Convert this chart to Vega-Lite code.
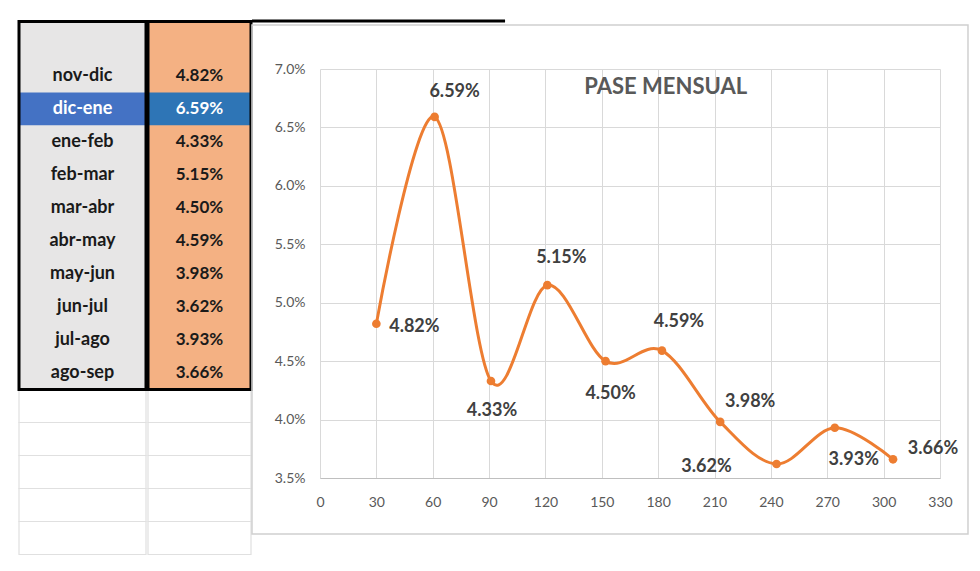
{
  "$schema": "https://vega.github.io/schema/vega-lite/v6.json",
  "background": "white",
  "padding": {"left": 17, "top": 19, "right": 0, "bottom": 0},
  "config": {
    "font": "Lato",
    "view": {"stroke": null},
    "text": {"font": "Lato", "fontWeight": "bold", "fontSize": 18, "color": "#404040"}
  },
  "datasets": {
    "pase": [
      {"periodo": "nov-dic", "dias": 30, "valor": 0.0482},
      {"periodo": "dic-ene", "dias": 61, "valor": 0.0659},
      {"periodo": "ene-feb", "dias": 91, "valor": 0.0433},
      {"periodo": "feb-mar", "dias": 121, "valor": 0.0515},
      {"periodo": "mar-abr", "dias": 152, "valor": 0.0450},
      {"periodo": "abr-may", "dias": 182, "valor": 0.0459},
      {"periodo": "may-jun", "dias": 213, "valor": 0.0398},
      {"periodo": "jun-jul", "dias": 243, "valor": 0.0362},
      {"periodo": "jul-ago", "dias": 274, "valor": 0.0393},
      {"periodo": "ago-sep", "dias": 305, "valor": 0.0366}
    ],
    "celdas": [
      {"periodo": "r1"}, {"periodo": "r2"}, {"periodo": "r3"}, {"periodo": "r4"}, {"periodo": "r5"}
    ]
  },
  "spacing": -3,
  "hconcat": [
    {
      "spacing": -3,
      "hconcat": [
        {
          "width": 127,
          "height": 321,
          "data": {"name": "pase"},
          "resolve": {"scale": {"y": "independent"}},
          "layer": [
            {
              "transform": [{"filter": "datum.periodo == 'nov-dic'"}],
              "mark": {"type": "rect", "fill": "#E7E6E6"},
              "encoding": {
                "x": {"value": 0}, "x2": {"value": "width"},
                "y": {"datum": "tabla", "type": "nominal", "axis": null,
                      "scale": {"range": [-47.5, 320.5], "paddingInner": 0, "paddingOuter": 0}}
              }
            },
            {
              "encoding": {
                "y": {"field": "periodo", "type": "nominal", "axis": null,
                      "scale": {"domain": ["nov-dic", "dic-ene", "ene-feb", "feb-mar", "mar-abr", "abr-may", "may-jun", "jun-jul", "jul-ago", "ago-sep", "r1", "r2", "r3", "r4", "r5"],
                                "range": [-9.5, 485.5], "paddingInner": 0, "paddingOuter": 0}}
              },
              "layer": [
                {
                  "data": {"name": "celdas"},
                  "mark": {"type": "rect", "fill": "transparent", "stroke": "#e0e0e0", "strokeWidth": 1.2},
                  "encoding": {"x": {"value": 0}, "x2": {"value": "width"}}
                },
                {
                  "mark": {"type": "rect"},
                  "encoding": {
                    "x": {"value": 0}, "x2": {"value": "width"},
                    "fill": {"condition": {"test": "datum.periodo == 'dic-ene'", "value": "#4472C4"}, "value": "#E7E6E6"}
                  }
                },
                {
                  "mark": {"type": "text", "fontSize": 18, "fontWeight": "bold"},
                  "encoding": {
                    "text": {"field": "periodo"},
                    "color": {"condition": {"test": "datum.periodo == 'dic-ene'", "value": "white"}, "value": "#1a1a1a"}
                  }
                }
              ]
            },
            {
              "transform": [{"filter": "datum.periodo == 'nov-dic'"}],
              "mark": {"type": "rect", "fill": "transparent", "stroke": "black", "strokeWidth": 3},
              "encoding": {
                "x": {"value": 0}, "x2": {"value": "width"},
                "y": {"datum": "tabla", "type": "nominal", "axis": null,
                      "scale": {"range": [-47.5, 320.5], "paddingInner": 0, "paddingOuter": 0}}
              }
            }
          ]
        },
        {
          "width": 103,
          "height": 321,
          "data": {"name": "pase"},
          "resolve": {"scale": {"y": "independent"}},
          "layer": [
            {
              "transform": [{"filter": "datum.periodo == 'nov-dic'"}],
              "mark": {"type": "rect", "fill": "#F4B183"},
              "encoding": {
                "x": {"value": 0}, "x2": {"value": "width"},
                "y": {"datum": "tabla", "type": "nominal", "axis": null,
                      "scale": {"range": [-47.5, 320.5], "paddingInner": 0, "paddingOuter": 0}}
              }
            },
            {
              "encoding": {
                "y": {"field": "periodo", "type": "nominal", "axis": null,
                      "scale": {"domain": ["nov-dic", "dic-ene", "ene-feb", "feb-mar", "mar-abr", "abr-may", "may-jun", "jun-jul", "jul-ago", "ago-sep", "r1", "r2", "r3", "r4", "r5"],
                                "range": [-9.5, 485.5], "paddingInner": 0, "paddingOuter": 0}}
              },
              "layer": [
                {
                  "data": {"name": "celdas"},
                  "mark": {"type": "rect", "fill": "transparent", "stroke": "#e0e0e0", "strokeWidth": 1.2},
                  "encoding": {"x": {"value": 0}, "x2": {"value": "width"}}
                },
                {
                  "mark": {"type": "rect"},
                  "encoding": {
                    "x": {"value": 0}, "x2": {"value": "width"},
                    "fill": {"condition": {"test": "datum.periodo == 'dic-ene'", "value": "#2E75B6"}, "value": "#F4B183"}
                  }
                },
                {
                  "mark": {"type": "text", "fontSize": 17, "fontWeight": "bold"},
                  "encoding": {
                    "text": {"field": "valor", "format": ".2%"},
                    "color": {"condition": {"test": "datum.periodo == 'dic-ene'", "value": "white"}, "value": "#1a1a1a"}
                  }
                }
              ]
            },
            {
              "transform": [{"filter": "datum.periodo == 'nov-dic'"}],
              "mark": {"type": "rect", "fill": "transparent", "stroke": "black", "strokeWidth": 3},
              "encoding": {
                "x": {"value": 0}, "x2": {"value": "width"},
                "y": {"datum": "tabla", "type": "nominal", "axis": null,
                      "scale": {"range": [-47.5, 320.5], "paddingInner": 0, "paddingOuter": 0}}
              }
            }
          ]
        }
      ]
    },
    {
      "width": 620,
      "height": 409,
      "data": {"name": "pase"},
      "encoding": {
        "x": {
          "field": "dias", "type": "quantitative",
          "scale": {"domain": [0, 330], "nice": false, "zero": false},
          "axis": {
            "values": [0, 30, 60, 90, 120, 150, 180, 210, 240, 270, 300, 330],
            "title": null, "grid": true, "gridColor": "#d9d9d9", "domainColor": "#bfbfbf",
            "ticks": false, "labelColor": "#595959", "labelFontSize": 14, "labelPadding": 17,
            "labelFont": "Lato", "labelFlush": false
          }
        },
        "y": {
          "field": "valor", "type": "quantitative",
          "scale": {"domain": [0.035, 0.07], "nice": false, "zero": false},
          "axis": {
            "values": [0.035, 0.04, 0.045, 0.05, 0.055, 0.06, 0.065, 0.07],
            "format": ".1%", "title": null, "grid": true, "gridColor": "#d9d9d9",
            "domain": false, "ticks": false, "labelColor": "#595959", "labelFontSize": 14,
            "labelPadding": 15, "labelFont": "Lato", "labelFlush": false
          }
        }
      },
      "layer": [
        {
          "transform": [{"filter": "datum.periodo == 'nov-dic'"}],
          "mark": {"type": "rect", "fill": "transparent", "stroke": "#d0d0d0", "strokeWidth": 1.5},
          "encoding": {
            "x": {"datum": -36.2, "type": "quantitative"},
            "x2": {"datum": 344.9},
            "y": {"datum": 0.073765, "type": "quantitative"},
            "y2": {"datum": 0.030208}
          }
        },
        {
          "transform": [{"filter": "datum.periodo == 'nov-dic'"}],
          "mark": {"type": "rule", "stroke": "black", "strokeWidth": 3},
          "encoding": {
            "x": {"datum": -36.2, "type": "quantitative"},
            "x2": {"datum": 98.5},
            "y": {"datum": 0.074108, "type": "quantitative"}
          }
        },
        {
          "transform": [{"filter": "datum.periodo == 'nov-dic'"}],
          "mark": {"type": "text", "fontSize": 22, "fontWeight": "bold", "color": "#595959"},
          "encoding": {
            "x": {"datum": 184, "type": "quantitative"},
            "y": {"datum": 0.06846, "type": "quantitative"},
            "text": {"value": "PASE MENSUAL"}
          }
        },
        {
          "mark": {"type": "line", "interpolate": "cardinal", "color": "#ED7D31", "strokeWidth": 3}
        },
        {
          "mark": {"type": "point", "filled": true, "opacity": 1, "size": 75, "color": "#ED7D31"}
        },
        {"transform": [{"filter": "datum.periodo == 'nov-dic'"}], "mark": {"type": "text", "dx": 38, "dy": 3}, "encoding": {"text": {"field": "valor", "format": ".2%"}}},
        {"transform": [{"filter": "datum.periodo == 'dic-ene'"}], "mark": {"type": "text", "dx": 20, "dy": -25}, "encoding": {"text": {"field": "valor", "format": ".2%"}}},
        {"transform": [{"filter": "datum.periodo == 'ene-feb'"}], "mark": {"type": "text", "dx": 1, "dy": 30}, "encoding": {"text": {"field": "valor", "format": ".2%"}}},
        {"transform": [{"filter": "datum.periodo == 'feb-mar'"}], "mark": {"type": "text", "dx": 14, "dy": -27}, "encoding": {"text": {"field": "valor", "format": ".2%"}}},
        {"transform": [{"filter": "datum.periodo == 'mar-abr'"}], "mark": {"type": "text", "dx": 5, "dy": 33}, "encoding": {"text": {"field": "valor", "format": ".2%"}}},
        {"transform": [{"filter": "datum.periodo == 'abr-may'"}], "mark": {"type": "text", "dx": 17, "dy": -29}, "encoding": {"text": {"field": "valor", "format": ".2%"}}},
        {"transform": [{"filter": "datum.periodo == 'may-jun'"}], "mark": {"type": "text", "dx": 30, "dy": -20}, "encoding": {"text": {"field": "valor", "format": ".2%"}}},
        {"transform": [{"filter": "datum.periodo == 'jun-jul'"}], "mark": {"type": "text", "dx": -70, "dy": 3}, "encoding": {"text": {"field": "valor", "format": ".2%"}}},
        {"transform": [{"filter": "datum.periodo == 'jul-ago'"}], "mark": {"type": "text", "dx": 19, "dy": 32}, "encoding": {"text": {"field": "valor", "format": ".2%"}}},
        {"transform": [{"filter": "datum.periodo == 'ago-sep'"}], "mark": {"type": "text", "dx": 40, "dy": -10}, "encoding": {"text": {"field": "valor", "format": ".2%"}}}
      ]
    }
  ]
}
